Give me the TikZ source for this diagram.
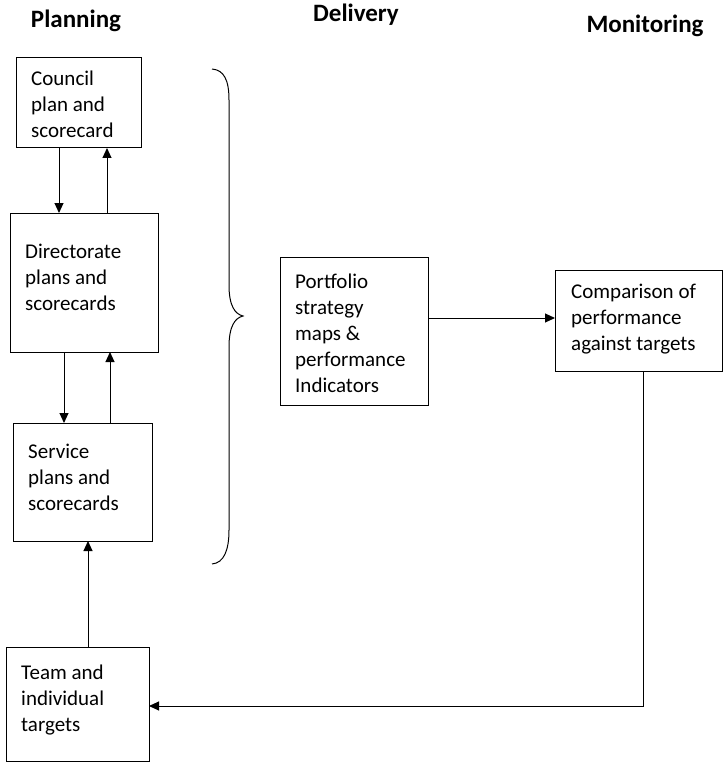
\documentclass[tikz,border=0pt]{standalone}
\usepackage{fontspec}
\setmainfont{Carlito}
\usetikzlibrary{arrows.meta}

\tikzset{
  box/.style={draw, line width=1pt, inner sep=0pt, outer sep=0pt},
  % multi-line labels are placed by the baseline of their last line
  txt/.style={inner sep=0pt, align=left, anchor=base west,
              font=\fontsize{21pt}{26pt}\selectfont},
  head/.style={inner sep=0pt, anchor=base,
               font=\bfseries\fontsize{25pt}{30pt}\selectfont},
  arr/.style={line width=1pt, -{Triangle[length=10pt,width=9pt]}},
  brace/.style={line width=1pt}
}

\begin{document}
\begin{tikzpicture}[x=1pt, y=-1pt]
  \useasboundingbox (0,0) rectangle (724,762);

  % column headings
  \node[head] (hplan) at (76,28) {Planning};
  \node[head] (hdel)  at (356,22) {Delivery};
  \node[head] (hmon)  at (645,33) {Monitoring};

  % planning boxes
  \node[box, minimum width=125pt, minimum height=90pt]  (council) at (78.5,103) {};
  \node[txt] (councilT) at (31,138) {Council\\plan and\\scorecard};

  \node[box, minimum width=148pt, minimum height=139pt] (direct) at (84,282.5) {};
  \node[txt] (directT) at (25,310) {Directorate\\plans and\\scorecards};

  \node[box, minimum width=139pt, minimum height=118pt] (service) at (82.5,482) {};
  \node[txt] (serviceT) at (28,510) {Service\\plans and\\scorecards};

  \node[box, minimum width=143pt, minimum height=114pt] (team) at (77.5,704) {};
  \node[txt] (teamT) at (21,731) {Team and\\individual\\targets};

  % delivery and monitoring boxes
  \node[box, minimum width=148pt, minimum height=148pt] (port) at (354,331) {};
  \node[txt] (portT) at (295,392) {Portfolio\\strategy\\maps \&\\performance\\Indicators};

  \node[box, minimum width=167pt, minimum height=101pt] (comp) at (638.5,320.5) {};
  \node[txt] (compT) at (571,350) {Comparison of\\performance\\against targets};

  % links between the planning levels
  \draw[arr] ([xshift=-19.5pt]council.south) -- ([xshift=-25pt]direct.north);
  \draw[arr] ([xshift=23pt]direct.north) -- ([xshift=28.5pt]council.south);
  \draw[arr] ([xshift=-20pt]direct.south) -- ([xshift=-18.5pt]service.north);
  \draw[arr] ([xshift=27.5pt]service.north) -- ([xshift=26pt]direct.south);
  \draw[arr] ([xshift=10.5pt]team.north) -- ([xshift=5.5pt]service.south);

  % delivery to monitoring, and feedback to targets
  \draw[arr] ([yshift=13pt]port.east) coordinate (pa) -- (comp.west |- pa);
  \draw[arr] ([xshift=4.5pt]comp.south) |- ([yshift=-2pt]team.east);

  % brace grouping the planning levels
  \draw[brace] (212,69) .. controls (224,70) and (229,80) .. (229,100)
    -- (229,285) .. controls (229,306) and (235,314) .. (243,316)
    .. controls (235,318) and (229,326) .. (229,347)
    -- (229,530) .. controls (229,550) and (224,563) .. (212,564);
\end{tikzpicture}
\end{document}
